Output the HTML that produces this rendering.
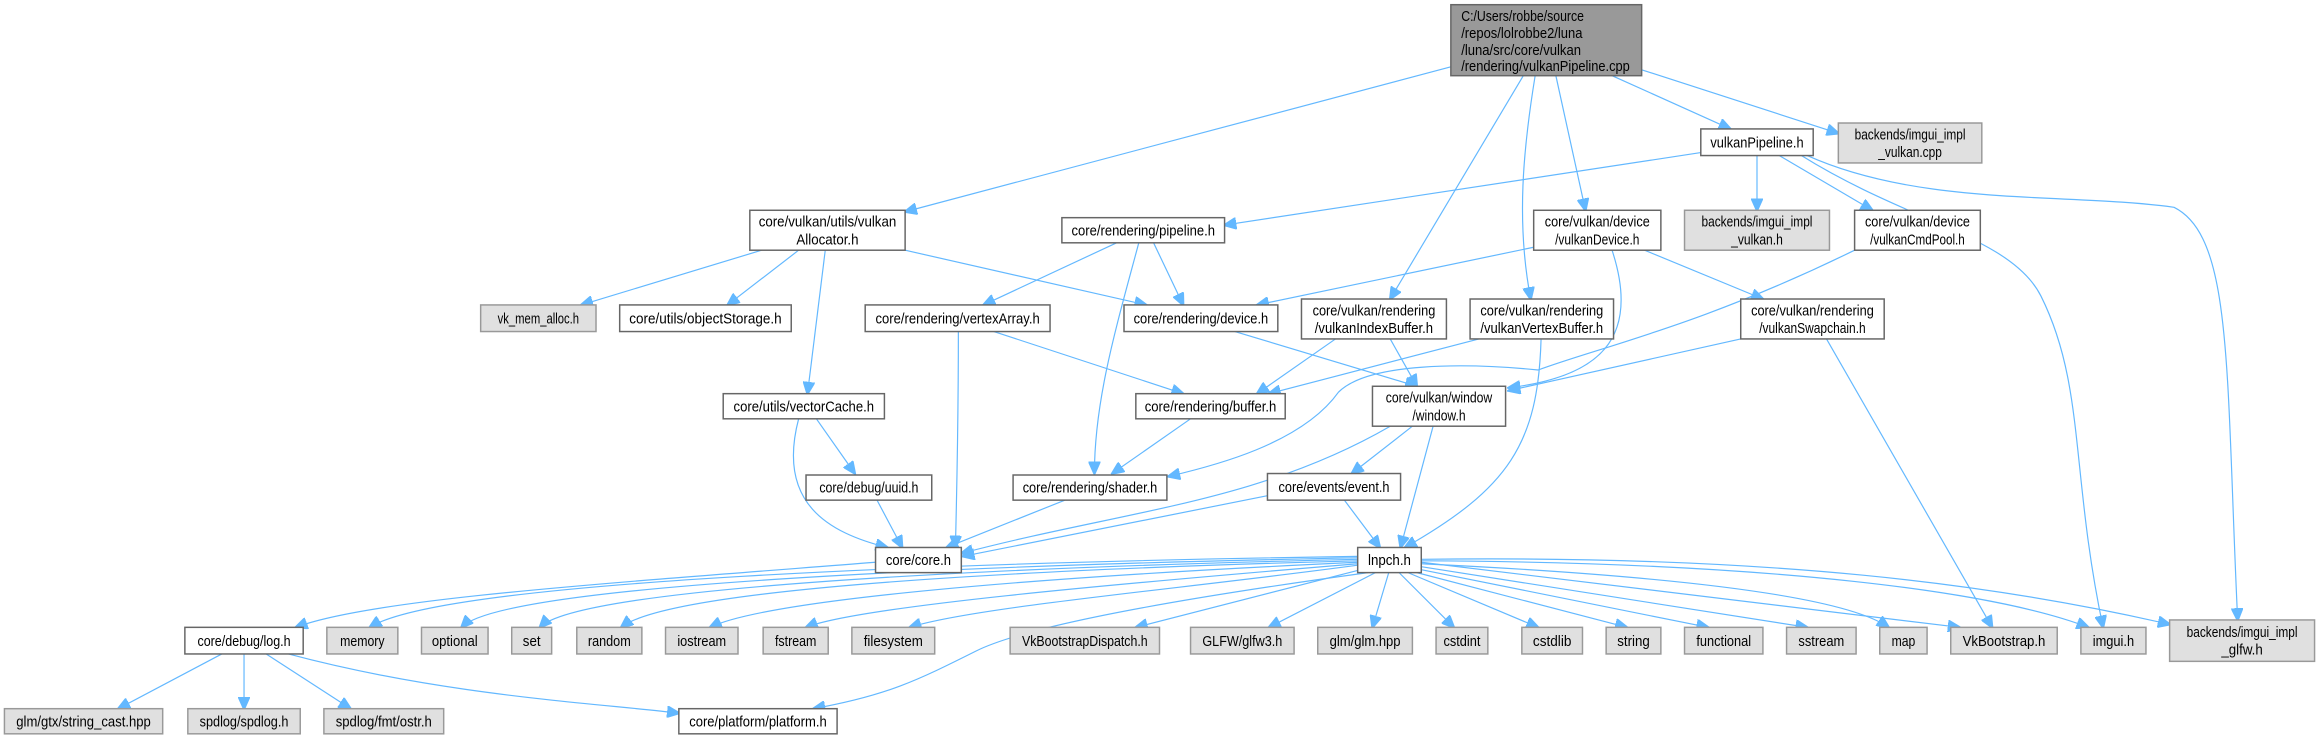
<!DOCTYPE html>
<html><head><meta charset="utf-8"><style>
html,body{margin:0;padding:0;background:#fff;}
svg{display:block;}
text{font-family:"Liberation Sans",sans-serif;font-size:10px;fill:#000;}
.w{fill:#fff;stroke:#666;stroke-width:1;}
.g{fill:#e0e0e0;stroke:#999;stroke-width:1;}
.r{fill:#999;stroke:#666;stroke-width:1;}
path{fill:none;stroke:#63b8ff;stroke-width:0.8;}
</style></head><body>
<svg width="2319" height="740" viewBox="0 0 1568 500" xmlns="http://www.w3.org/2000/svg">
<defs><marker id="a" markerUnits="userSpaceOnUse" markerWidth="9" markerHeight="8" refX="8" refY="4" orient="auto"><path d="M0,0 L9,4 L0,8 Z" style="fill:#63b8ff;stroke:#63b8ff"/></marker></defs>
<g marker-end="url(#a)">
<path d="M981,45 L612,143"/>
<path d="M1090,51 L1170,87"/>
<path d="M1110,47 L1243,90"/>
<path d="M1030,51 L940,202"/>
<path d="M1038,51 C1030,100 1025,150 1035,202"/>
<path d="M1052,51 L1072,142"/>
<path d="M1150,103 L828,152"/>
<path d="M1188,105 L1188,142"/>
<path d="M1203,105 L1266,142"/>
<path d="M1218,105 C1290,150 1360,160 1380,200 C1410,260 1400,320 1422,424"/>
<path d="M1222,105 C1300,140 1400,130 1470,140 C1510,160 1505,250 1513,419"/>
<path d="M515,169 L393,206"/>
<path d="M540,169 L492,206"/>
<path d="M558,169 L546,266"/>
<path d="M612,169 L775,206"/>
<path d="M755,164 L665,206"/>
<path d="M780,164 L800,206"/>
<path d="M770,164 C755,220 740,270 740,320"/>
<path d="M648,224 C648,280 647,330 646,370"/>
<path d="M672,224 L800,266"/>
<path d="M835,224 L958,261"/>
<path d="M1037,167 L850,206"/>
<path d="M1112,169 L1192,202"/>
<path d="M1090,169 C1110,230 1080,255 1020,262"/>
<path d="M1254,169 C1150,220 1080,235 1040,250 C990,245 925,245 905,265 C880,300 820,315 790,322"/>
<path d="M903,229 L850,266"/>
<path d="M940,229 L958,261"/>
<path d="M1000,229 L858,266"/>
<path d="M1042,229 C1040,300 1020,330 950,370"/>
<path d="M1177,229 L1020,264"/>
<path d="M1235,229 L1347,424"/>
<path d="M552,283 L578,320"/>
<path d="M540,283 C525,340 560,360 600,370"/>
<path d="M805,283 L752,320"/>
<path d="M940,288 C850,340 760,345 650,374"/>
<path d="M955,288 L914,320"/>
<path d="M969,288 L947,370"/>
<path d="M720,338 L640,370"/>
<path d="M593,338 L610,370"/>
<path d="M857,335 L651,376"/>
<path d="M909,338 L933,370"/>
<path d="M592,380 C400,395 250,405 200,424"/>
<path d="M918,376 C650,380 300,392 250,424"/>
<path d="M918,377 C650,382 340,395 312,424"/>
<path d="M918,378 C650,384 390,398 365,424"/>
<path d="M918,379 C650,386 450,400 420,424"/>
<path d="M918,380 C700,390 520,405 480,424"/>
<path d="M918,381 C750,395 580,410 545,424"/>
<path d="M918,382 C800,398 660,410 615,424"/>
<path d="M920,385 L768,424"/>
<path d="M925,387 C830,400 700,420 660,440 C620,460 600,470 550,479"/>
<path d="M930,387 L858,424"/>
<path d="M939,387 L928,424"/>
<path d="M946,387 L983,424"/>
<path d="M952,387 L1040,424"/>
<path d="M958,387 L1100,424"/>
<path d="M961,385 L1155,424"/>
<path d="M961,383 L1222,424"/>
<path d="M961,381 C1150,390 1250,405 1277,424"/>
<path d="M961,380 L1325,424"/>
<path d="M961,379 C1200,380 1350,400 1412,424"/>
<path d="M961,378 C1200,375 1350,395 1467,422"/>
<path d="M150,442 L80,479"/>
<path d="M165,442 L165,479"/>
<path d="M180,442 L237,479"/>
<path d="M195,442 C300,470 400,475 459,482"/>
</g>
<rect class="r" x="981" y="3" width="129" height="48"/>
<text x="988" y="14" textLength="83" lengthAdjust="spacingAndGlyphs">C:/Users/robbe/source</text>
<text x="988" y="25.5" textLength="82" lengthAdjust="spacingAndGlyphs">/repos/lolrobbe2/luna</text>
<text x="988" y="37" textLength="81" lengthAdjust="spacingAndGlyphs">/luna/src/core/vulkan</text>
<text x="988" y="48" textLength="114" lengthAdjust="spacingAndGlyphs">/rendering/vulkanPipeline.cpp</text>
<g text-anchor="middle">
<rect class="w" x="1150" y="87" width="76" height="18"/><text x="1188" y="99.5" textLength="63" lengthAdjust="spacingAndGlyphs">vulkanPipeline.h</text>
<rect class="g" x="1243" y="83" width="97" height="27"/><text x="1291.5" y="94" textLength="75" lengthAdjust="spacingAndGlyphs">backends/imgui_impl</text><text x="1291.5" y="106" textLength="43" lengthAdjust="spacingAndGlyphs">_vulkan.cpp</text>
<rect class="w" x="507" y="142" width="105" height="27"/><text x="559.5" y="153" textLength="93" lengthAdjust="spacingAndGlyphs">core/vulkan/utils/vulkan</text><text x="559.5" y="165" textLength="42" lengthAdjust="spacingAndGlyphs">Allocator.h</text>
<rect class="w" x="718" y="147" width="110" height="17"/><text x="773" y="159" textLength="97" lengthAdjust="spacingAndGlyphs">core/rendering/pipeline.h</text>
<rect class="w" x="1037" y="142" width="86" height="27"/><text x="1080" y="153" textLength="71" lengthAdjust="spacingAndGlyphs">core/vulkan/device</text><text x="1080" y="165" textLength="57" lengthAdjust="spacingAndGlyphs">/vulkanDevice.h</text>
<rect class="g" x="1139" y="142" width="98" height="27"/><text x="1188" y="153" textLength="75" lengthAdjust="spacingAndGlyphs">backends/imgui_impl</text><text x="1188" y="165" textLength="35" lengthAdjust="spacingAndGlyphs">_vulkan.h</text>
<rect class="w" x="1254" y="142" width="85" height="27"/><text x="1296.5" y="153" textLength="71" lengthAdjust="spacingAndGlyphs">core/vulkan/device</text><text x="1296.5" y="165" textLength="64" lengthAdjust="spacingAndGlyphs">/vulkanCmdPool.h</text>
<rect class="g" x="325" y="206" width="78" height="18"/><text x="364" y="218.5" textLength="55" lengthAdjust="spacingAndGlyphs">vk_mem_alloc.h</text>
<rect class="w" x="419" y="206" width="116" height="18"/><text x="477" y="218.5" textLength="103" lengthAdjust="spacingAndGlyphs">core/utils/objectStorage.h</text>
<rect class="w" x="585" y="206" width="125" height="18"/><text x="647.5" y="218.5" textLength="111" lengthAdjust="spacingAndGlyphs">core/rendering/vertexArray.h</text>
<rect class="w" x="760" y="206" width="104" height="18"/><text x="812" y="218.5" textLength="91" lengthAdjust="spacingAndGlyphs">core/rendering/device.h</text>
<rect class="w" x="880" y="202" width="98" height="27"/><text x="929" y="213" textLength="83" lengthAdjust="spacingAndGlyphs">core/vulkan/rendering</text><text x="929" y="225" textLength="80" lengthAdjust="spacingAndGlyphs">/vulkanIndexBuffer.h</text>
<rect class="w" x="994" y="202" width="97" height="27"/><text x="1042.5" y="213" textLength="83" lengthAdjust="spacingAndGlyphs">core/vulkan/rendering</text><text x="1042.5" y="225" textLength="83" lengthAdjust="spacingAndGlyphs">/vulkanVertexBuffer.h</text>
<rect class="w" x="1177" y="202" width="97" height="27"/><text x="1225.5" y="213" textLength="83" lengthAdjust="spacingAndGlyphs">core/vulkan/rendering</text><text x="1225.5" y="225" textLength="72" lengthAdjust="spacingAndGlyphs">/vulkanSwapchain.h</text>
<rect class="w" x="489" y="266" width="109" height="17"/><text x="543.5" y="278" textLength="95" lengthAdjust="spacingAndGlyphs">core/utils/vectorCache.h</text>
<rect class="w" x="768" y="266" width="101" height="17"/><text x="818.5" y="278" textLength="89" lengthAdjust="spacingAndGlyphs">core/rendering/buffer.h</text>
<rect class="w" x="928" y="261" width="90" height="27"/><text x="973" y="272" textLength="72" lengthAdjust="spacingAndGlyphs">core/vulkan/window</text><text x="973" y="284" textLength="36" lengthAdjust="spacingAndGlyphs">/window.h</text>
<rect class="w" x="545" y="321" width="85" height="17"/><text x="587.5" y="333" textLength="67" lengthAdjust="spacingAndGlyphs">core/debug/uuid.h</text>
<rect class="w" x="685" y="321" width="104" height="17"/><text x="737" y="333" textLength="91" lengthAdjust="spacingAndGlyphs">core/rendering/shader.h</text>
<rect class="w" x="857" y="320" width="90" height="18"/><text x="902" y="332.5" textLength="75" lengthAdjust="spacingAndGlyphs">core/events/event.h</text>
<rect class="w" x="592" y="370" width="58" height="17"/><text x="621" y="382" textLength="44" lengthAdjust="spacingAndGlyphs">core/core.h</text>
<rect class="w" x="918" y="370" width="43" height="17"/><text x="939.5" y="382" textLength="29" lengthAdjust="spacingAndGlyphs">lnpch.h</text>
<rect class="w" x="125" y="424" width="80" height="18"/><text x="165" y="436.5" textLength="63" lengthAdjust="spacingAndGlyphs">core/debug/log.h</text>
<rect class="g" x="221" y="424" width="48" height="18"/><text x="245" y="436.5" textLength="30" lengthAdjust="spacingAndGlyphs">memory</text>
<rect class="g" x="285" y="424" width="45" height="18"/><text x="307.5" y="436.5" textLength="31" lengthAdjust="spacingAndGlyphs">optional</text>
<rect class="g" x="346" y="424" width="27" height="18"/><text x="359.5" y="436.5" textLength="12" lengthAdjust="spacingAndGlyphs">set</text>
<rect class="g" x="390" y="424" width="44" height="18"/><text x="412" y="436.5" textLength="29" lengthAdjust="spacingAndGlyphs">random</text>
<rect class="g" x="450" y="424" width="49" height="18"/><text x="474.5" y="436.5" textLength="33" lengthAdjust="spacingAndGlyphs">iostream</text>
<rect class="g" x="516" y="424" width="44" height="18"/><text x="538" y="436.5" textLength="28" lengthAdjust="spacingAndGlyphs">fstream</text>
<rect class="g" x="576" y="424" width="56" height="18"/><text x="604" y="436.5" textLength="40" lengthAdjust="spacingAndGlyphs">filesystem</text>
<rect class="g" x="683" y="424" width="101" height="18"/><text x="733.5" y="436.5" textLength="85" lengthAdjust="spacingAndGlyphs">VkBootstrapDispatch.h</text>
<rect class="g" x="805" y="424" width="70" height="18"/><text x="840" y="436.5" textLength="54" lengthAdjust="spacingAndGlyphs">GLFW/glfw3.h</text>
<rect class="g" x="891" y="424" width="64" height="18"/><text x="923" y="436.5" textLength="48" lengthAdjust="spacingAndGlyphs">glm/glm.hpp</text>
<rect class="g" x="971" y="424" width="35" height="18"/><text x="988.5" y="436.5" textLength="25" lengthAdjust="spacingAndGlyphs">cstdint</text>
<rect class="g" x="1029" y="424" width="41" height="18"/><text x="1049.5" y="436.5" textLength="26" lengthAdjust="spacingAndGlyphs">cstdlib</text>
<rect class="g" x="1086" y="424" width="37" height="18"/><text x="1104.5" y="436.5" textLength="22" lengthAdjust="spacingAndGlyphs">string</text>
<rect class="g" x="1139" y="424" width="53" height="18"/><text x="1165.5" y="436.5" textLength="37" lengthAdjust="spacingAndGlyphs">functional</text>
<rect class="g" x="1208" y="424" width="47" height="18"/><text x="1231.5" y="436.5" textLength="31" lengthAdjust="spacingAndGlyphs">sstream</text>
<rect class="g" x="1271" y="424" width="32" height="18"/><text x="1287" y="436.5" textLength="16" lengthAdjust="spacingAndGlyphs">map</text>
<rect class="g" x="1319" y="424" width="72" height="18"/><text x="1355" y="436.5" textLength="56" lengthAdjust="spacingAndGlyphs">VkBootstrap.h</text>
<rect class="g" x="1407" y="424" width="44" height="18"/><text x="1429" y="436.5" textLength="28" lengthAdjust="spacingAndGlyphs">imgui.h</text>
<rect class="g" x="1467" y="419" width="98" height="28"/><text x="1516" y="430.5" textLength="75" lengthAdjust="spacingAndGlyphs">backends/imgui_impl</text><text x="1516" y="442.5" textLength="28" lengthAdjust="spacingAndGlyphs">_glfw.h</text>
<rect class="g" x="3" y="479" width="107" height="17"/><text x="56.5" y="491" textLength="91" lengthAdjust="spacingAndGlyphs">glm/gtx/string_cast.hpp</text>
<rect class="g" x="127" y="479" width="76" height="17"/><text x="165" y="491" textLength="60" lengthAdjust="spacingAndGlyphs">spdlog/spdlog.h</text>
<rect class="g" x="219" y="479" width="81" height="17"/><text x="259.5" y="491" textLength="65" lengthAdjust="spacingAndGlyphs">spdlog/fmt/ostr.h</text>
<rect class="w" x="459" y="479" width="107" height="17"/><text x="512.5" y="491" textLength="93" lengthAdjust="spacingAndGlyphs">core/platform/platform.h</text>
</g>
</svg>
</body></html>
